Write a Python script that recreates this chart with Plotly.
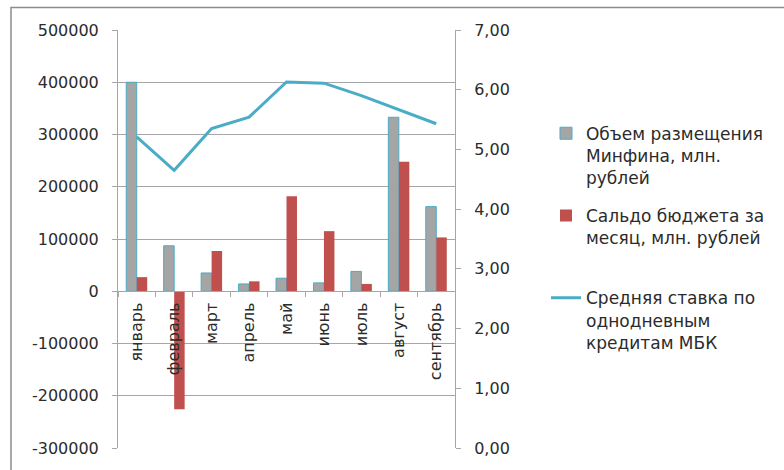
import plotly.graph_objects as go

# Monthly data
months = ["январь", "февраль", "март", "апрель", "май", "июнь", "июль", "август", "сентябрь"]
placement = [400000, 87000, 35000, 14000, 25000, 16000, 38000, 333000, 162000]
budget_balance = [27000, -226000, 77000, 19000, 182000, 115000, 14000, 248000, 103000]
mbk_rate = [5.21, 4.65, 5.35, 5.54, 6.13, 6.11, 5.90, 5.66, 5.43]

# Axis tick labels
left_ticks = [-300000, -200000, -100000, 0, 100000, 200000, 300000, 400000, 500000]
left_labels = ["-300000", "-200000", "-100000", "0", "100000", "200000", "300000", "400000", "500000"]
right_ticks = [0, 1, 2, 3, 4, 5, 6, 7]
right_labels = ["0,00", "1,00", "2,00", "3,00", "4,00", "5,00", "6,00", "7,00"]

# an invisible trailing line keeps extra room below the second legend entry
spacer = "<br><span style='color:rgba(0,0,0,0)'>.</span>"
names = [
    "Объем размещения<br>Минфина, млн.<br>рублей",
    "Сальдо бюджета за<br>месяц, млн. рублей" + spacer,
    "Средняя ставка по<br>однодневным<br>кредитам МБК",
]

FONT = "DejaVu Sans"
TXT = "#2b2b2b"
GRID = "#a6a6a6"

fig = go.Figure()
fig.add_trace(go.Bar(
    x=months, y=placement, name=names[0], legendgroup="a",
    marker=dict(color="#a5a5a5", line=dict(color="#4bacc6", width=1)),
))
fig.add_trace(go.Bar(
    x=months, y=budget_balance, name=names[1], legendgroup="b",
    marker=dict(color="#c0504d", line=dict(color="#c0504d", width=0)),
))
fig.add_trace(go.Scatter(
    x=months, y=mbk_rate, name=names[2], legendgroup="c", yaxis="y2",
    mode="lines", line=dict(color="#4bacc6", width=3),
))

# zero on the left axis, as a fraction of the plot height
lo, hi = left_ticks[0], left_ticks[-1]
zero_pos = (0 - lo) / (hi - lo)

fig.update_layout(
    width=784, height=470,
    margin=dict(l=118, r=329, t=30, b=20),
    paper_bgcolor="white", plot_bgcolor="white",
    font=dict(family=FONT, color=TXT, size=16),
    barmode="group", bargap=0.44, bargroupgap=0,
    showlegend=True,
    legend=dict(
        x=1.27, y=0.795, xanchor="left", yanchor="top",
        font=dict(family=FONT, size=17, color=TXT),
        valign="top", tracegroupgap=13, traceorder="grouped",
        bgcolor="rgba(0,0,0,0)",
    ),
    xaxis=dict(
        type="category", anchor="free", position=zero_pos,
        showgrid=False, showline=True, linecolor=GRID, linewidth=1,
        ticks="outside", ticklen=5, tickcolor=GRID, tickson="boundaries",
        tickangle=-90, tickfont=dict(family=FONT, size=16, color=TXT),
        ticklabelstandoff=4,
    ),
    yaxis=dict(
        range=[lo, hi], tickvals=left_ticks, ticktext=left_labels,
        showgrid=True, gridcolor=GRID, gridwidth=1,
        showline=True, linecolor=GRID, linewidth=1,
        ticks="outside", ticklen=5, tickcolor=GRID,
        zeroline=False, ticklabelstandoff=10,
        tickfont=dict(family=FONT, size=16, color=TXT),
    ),
    yaxis2=dict(
        overlaying="y", side="right", range=[0, 7],
        tickvals=right_ticks, ticktext=right_labels,
        showgrid=False, zeroline=False,
        showline=True, linecolor=GRID, linewidth=1,
        ticks="outside", ticklen=5, tickcolor=GRID,
        ticklabelstandoff=10,
        tickfont=dict(family=FONT, size=16, color=TXT),
    ),
)

# chart frame (top and left edges visible)
fig.add_shape(
    type="rect", xref="paper", yref="paper",
    x0=-0.3175, x1=2.0, y0=-0.1, y1=1.0536,
    line=dict(color="#8c8c8c", width=1.5), fillcolor="rgba(0,0,0,0)",
    layer="below",
)

fig.write_html("out.html")
